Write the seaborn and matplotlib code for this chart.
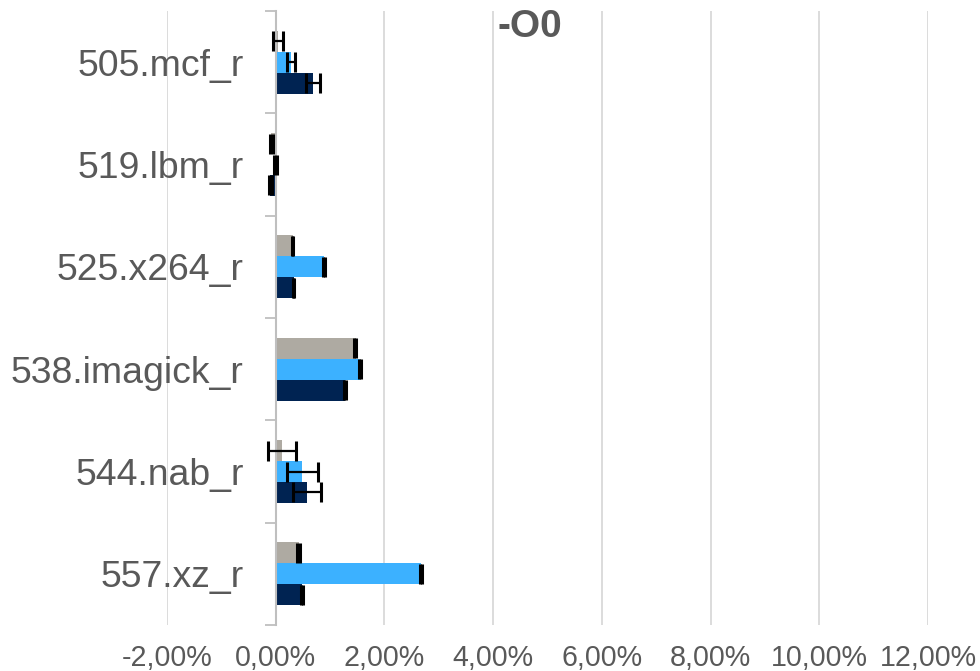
import numpy as np
import pandas as pd
import matplotlib
matplotlib.use("Agg")
import matplotlib.pyplot as plt
import seaborn as sns
from matplotlib.ticker import FixedLocator, FuncFormatter

# -----------------------------
# Data (percent change per benchmark, -O0)
# -----------------------------
categories = ["505.mcf_r", "519.lbm_r", "525.x264_r", "538.imagick_r", "544.nab_r", "557.xz_r"]
series_names = ["Series 1", "Series 2", "Series 3"]

gray_vals = [0.04, -0.08, 0.31, 1.46, 0.12, 0.42]
gray_err = [0.09, 0.03, 0.015, 0.015, 0.26, 0.02]
blue_vals = [0.28, 0.00, 0.89, 1.55, 0.49, 2.67]
blue_err = [0.07, 0.03, 0.015, 0.015, 0.28, 0.015]
navy_vals = [0.68, -0.10, 0.33, 1.27, 0.57, 0.49]
navy_err = [0.13, 0.03, 0.015, 0.015, 0.26, 0.02]

x_ticks = [-2, 0, 2, 4, 6, 8, 10, 12]
title = "-O0"

colors = ["#aeaaa2", "#3cb1ff", "#002352"]
text_color = "#595959"

values = [gray_vals, blue_vals, navy_vals]
errors = [gray_err, blue_err, navy_err]

df = pd.DataFrame({
    "category": categories * 3,
    "series": np.repeat(series_names, len(categories)),
    "value": np.concatenate(values),
})

# -----------------------------
# Plot
# -----------------------------
sns.set_theme(style="white")
plt.rcParams["font.family"] = ["Liberation Sans", "DejaVu Sans"]

fig = plt.figure(figsize=(9.8, 6.71), dpi=100)
ax = fig.add_axes([167 / 980, 1 - 625 / 671, (928 - 167) / 980, (625 - 11) / 671])

sns.barplot(
    data=df, x="value", y="category", hue="series", hue_order=series_names,
    palette=colors, orient="h", errorbar=None, width=0.615, saturation=1,
    linewidth=0, legend=False, ax=ax,
)

# error bars on top of each bar
for container, vals, errs in zip(ax.containers, values, errors):
    ys = [p.get_y() + p.get_height() / 2 for p in container.patches]
    ax.errorbar(vals, ys, xerr=errs, fmt="none", ecolor="black",
                elinewidth=1.6, capsize=7, capthick=2.2, zorder=5)

ax.set_xlim(-2, 12)
ax.set_ylim(len(categories) - 0.5, -0.5)
ax.xaxis.set_major_locator(FixedLocator(x_ticks))
ax.xaxis.set_major_formatter(FuncFormatter(lambda v, _: f"{v:.2f}%".replace(".", ",")))
ax.grid(axis="x", color="#d9d9d9", linewidth=1.3)
ax.set_axisbelow(True)

for side in ["top", "right", "bottom"]:
    ax.spines[side].set_visible(False)
ax.spines["left"].set_position(("data", 0))
ax.spines["left"].set_color("#bfbfbf")
ax.spines["left"].set_linewidth(1.5)
ax.spines["left"].set_zorder(4)

ax.yaxis.set_minor_locator(FixedLocator(np.arange(-0.5, len(categories), 1.0)))
ax.tick_params(axis="y", which="major", length=0, pad=23, labelsize=26.9, labelcolor=text_color)
ax.tick_params(axis="y", which="minor", length=8, width=1.3, color="#bfbfbf", left=True)
ax.tick_params(axis="x", which="major", length=0, pad=14, labelsize=20.6, labelcolor=text_color)

ax.set_xlabel("")
ax.set_ylabel("")

fig.text(530 / 980, 1 - 27 / 671, title, ha="center", va="center",
         fontsize=28, fontweight="bold", color=text_color)

fig.savefig("out.png", dpi=100)
